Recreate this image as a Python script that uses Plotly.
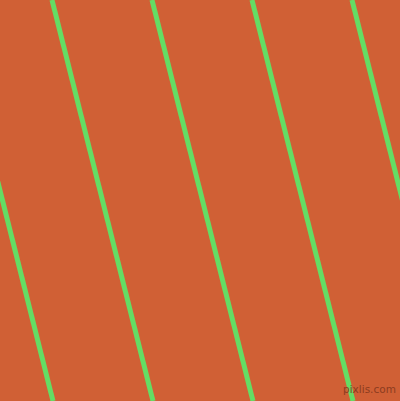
import plotly.graph_objects as go

# Stripe positions (pixel coordinates in a 400 x 401 canvas)
top_x = [-48, 52, 152, 252, 352]
bottom_x = [53, 153, 253, 353, 453]
y_top = 0
y_bottom = 401

bg_color = "#D06035"
line_color = "#64DD64"

fig = go.Figure()
for tx, bx in zip(top_x, bottom_x):
    fig.add_trace(go.Scatter(
        x=[tx, bx], y=[y_top, y_bottom], mode="lines",
        line=dict(color=line_color, width=5),
        hoverinfo="skip", showlegend=False,
    ))

fig.add_annotation(
    x=398, y=397, xref="x", yref="y", xanchor="right", yanchor="bottom",
    text="pixlis.com", showarrow=False,
    font=dict(family="DejaVu Sans", size=10.5, color="#8C3C1F"),
)

fig.update_layout(
    width=400, height=401,
    margin=dict(l=0, r=0, t=0, b=0),
    paper_bgcolor=bg_color, plot_bgcolor=bg_color,
    xaxis=dict(range=[0, 400], visible=False, fixedrange=True),
    yaxis=dict(range=[401, 0], visible=False, fixedrange=True),
)

fig.write_html("out.html", config={"displayModeBar": False},
               post_script="document.body.style.margin='0';document.body.style.overflow='hidden';")
